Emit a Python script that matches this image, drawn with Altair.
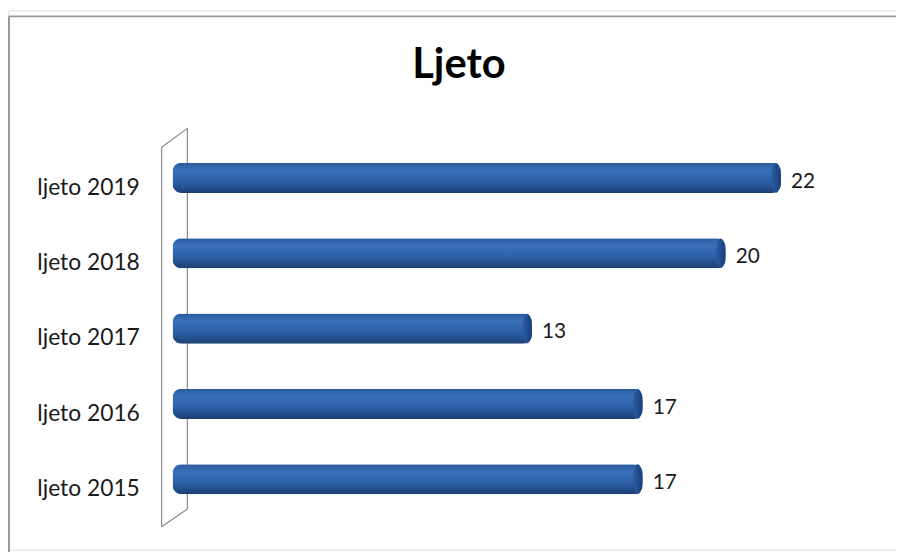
import altair as alt
import pandas as pd

categories = ["ljeto 2019", "ljeto 2018", "ljeto 2017", "ljeto 2016", "ljeto 2015"]
values = [22, 20, 13, 17, 17]

df = pd.DataFrame({"season": categories, "value": values})

W, H = 896, 544
OX, OY = 8, 8  # page offset of the plot origin

xscale = alt.Scale(domain=[0, 22], range=[174 - OX, 788 - OX], nice=False, zero=True)
yscale = alt.Scale(domain=categories, range=[139 - OY, 519 - OY], paddingInner=0.6, paddingOuter=0.3)

grad = alt.LinearGradient(
    gradient="linear", x1=0, y1=0, x2=0, y2=1,
    stops=[
        alt.GradientStop(color="#2a5a9e", offset=0),
        alt.GradientStop(color="#3a70b8", offset=0.25),
        alt.GradientStop(color="#2d61a8", offset=0.6),
        alt.GradientStop(color="#1c3f74", offset=1),
    ],
)
capgrad = alt.LinearGradient(
    gradient="linear", x1=0, y1=0, x2=1, y2=0,
    stops=[
        alt.GradientStop(color="#2a5ea6", offset=0),
        alt.GradientStop(color="#1a3d78", offset=1),
    ],
)

base = alt.Chart(df)
X = alt.X("value:Q", scale=xscale, axis=None)
Y = alt.Y("season:N", scale=yscale, axis=None, sort=categories)

bars = base.mark_bar(color=grad, cornerRadius=9, clip=False).encode(x=X, y=Y)

ellipse = "M0,-1 A0.32,1 0 1,1 0,1 A0.32,1 0 1,1 0,-1 Z"
caps = base.mark_point(shape=ellipse, size=900, filled=True, color=capgrad, opacity=1, xOffset=-5).encode(x=X, y=Y)

vlabels = base.mark_text(align="left", baseline="middle", dx=10, dy=4, font="Lato", fontSize=21, color="#1a1a1a").encode(
    x=X, y=Y, text="value:Q"
)

clabels = base.mark_text(align="right", baseline="middle", dy=10, font="Lato", fontSize=23, color="#1a1a1a").encode(
    x=alt.value(141 - OX), y=Y, text="season:N"
)

one = alt.Chart(pd.DataFrame({"k": [0]}))
wall_col = "#8a8a8a"
def seg(x1, y1, x2, y2, col=wall_col, w=1.2):
    return one.mark_rule(color=col, strokeWidth=w).encode(
        x=alt.value(x1 - OX), y=alt.value(y1 - OY), x2=alt.value(x2 - OX), y2=alt.value(y2 - OY)
    )

wall = [
    seg(163, 146, 163, 529),
    seg(189, 127, 189, 511),
    seg(163, 146, 189, 127),
    seg(163, 529, 189, 511),
]
border = [
    seg(9, 14, 9, 560, col="#9a9a9a", w=2),
    seg(9, 14, 910, 14, col="#9a9a9a", w=2),
]

title = one.mark_text(align="center", baseline="middle", font="Lato", fontWeight="bold", fontSize=42, color="#000000").encode(
    x=alt.value(463 - OX), y=alt.value(63 - OY), text=alt.value("Ljeto")
)

chart = alt.layer(*border, *wall, bars, caps, vlabels, clabels, title).properties(
    width=W, height=H, autosize=alt.AutoSizeParams(type="none"), padding=0
).configure_view(stroke=None).configure(background="white")

chart.save("out.html", embed_options={"renderer": "svg", "actions": False})
